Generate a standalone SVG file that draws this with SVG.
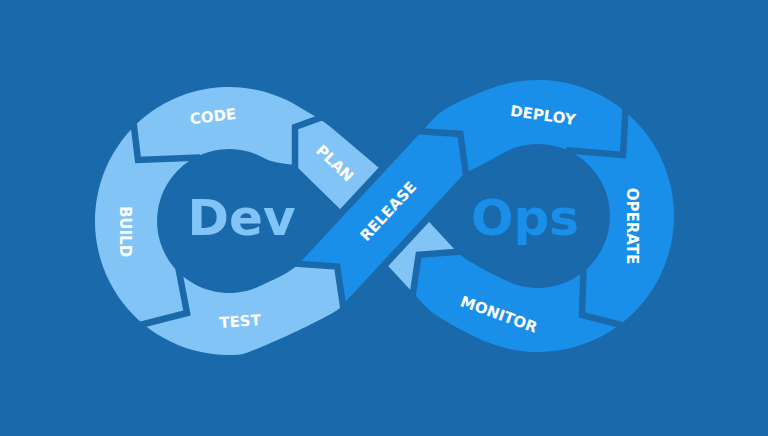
<svg xmlns="http://www.w3.org/2000/svg" width="768" height="436" viewBox="0 0 768 436">
<style>
.bg{fill:#1a69ab}
.light{fill:#82c4f6}
.bright{fill:#1a8fea}
.gap{fill:none;stroke:#1a69ab;stroke-width:6.5;stroke-linejoin:miter;stroke-linecap:butt}
.lbl{font-family:"DejaVu Sans","Liberation Sans",sans-serif;font-weight:bold;font-size:15px;fill:#ffffff;text-anchor:middle}
.big{font-family:"DejaVu Sans","Liberation Sans",sans-serif;font-weight:bold;font-size:50px;text-anchor:middle}
</style>
<rect class="bg" x="0" y="0" width="768" height="436"/>
<g id="dev-loop">
<path class="light" d="M457,252 L403.9,194.8 L406.9,191.4 L330,126.4 C320.8,118.7 310.2,113.8 300,107.4 A134,134 0 1 0 240.7,354.5 C250.7,353.6 332.7,315.6 339.5,308.3 L342.9,304.6 L337.2,266.6 L298.9,263.8 C290.7,272.6 270.3,281.2 259.4,286.3 A72,72 0 1 1 265,158.6 C272,162.6 285,164 295,165 L366.6,235 L363,238.9 L413,292.8 L418.7,254.8 Z"/>
</g>
<g id="release-outline">
<polygon class="bg" points="314.2,237 409.4,134.4 463.6,184.8 368.4,287.4"/>
</g>
<g id="ops-loop">
<path class="bright" d="M298.9,263.8 L337.2,266.6 L342.9,304.6 L463.9,174.1 C476,168 491.6,159.6 502,153.6 A72,72 0 1 1 507.6,281.3 C496.7,276.2 465.2,260.8 457,252 L418.7,254.8 L413,292.8 L426.6,307.5 C436.1,317.8 474,336.9 487,342.1 A136,136 0 1 0 491.5,88.2 C477.4,93.3 445.1,106.2 434.9,117.2 Z"/>
</g>
<g id="connectors">
<polyline class="gap" points="132,110 138,160 200,157.6"/>
<polyline class="gap" points="178,266 187,313 138,325.5"/>
<polyline class="gap" points="291.2,263.2 337.2,266.6 344,312.2"/>
<polyline class="gap" points="325.6,116 295,127 295,171"/>
<polyline class="gap" points="415.4,131 460.3,133.9 466.6,178.6"/>
<polyline class="gap" points="625.6,108 623,155 566,150.2"/>
<polyline class="gap" points="583.5,270 582,315 629,327"/>
<polyline class="gap" points="464.7,251.2 418.7,254.8 411.9,300.4"/>
</g>
<g id="dev"><text class="big" x="241.5" y="235" fill="#82c4f6">Dev</text></g>
<g id="ops"><text class="big" x="525" y="235" fill="#1a8fea">Ops</text></g>
<g id="plan"><text class="lbl" transform="translate(335,163) rotate(44)" y="5.5">PLAN</text></g>
<g id="code"><text class="lbl" transform="translate(213,116) rotate(-7)" y="5.5">CODE</text></g>
<g id="build"><text class="lbl" transform="translate(125,231.5) rotate(90)" y="5.5">BUILD</text></g>
<g id="test"><text class="lbl" transform="translate(240,321) rotate(-4)" y="5.5">TEST</text></g>
<g id="release"><text class="lbl" transform="translate(388,211) rotate(-47)" y="5.5">RELEASE</text></g>
<g id="deploy"><text class="lbl" transform="translate(543,115) rotate(8)" y="5.5">DEPLOY</text></g>
<g id="operate"><text class="lbl" transform="translate(632.5,226) rotate(90)" y="5.5">OPERATE</text></g>
<g id="monitor"><text class="lbl" transform="translate(499,314) rotate(20)" y="5.5">MONITOR</text></g>
</svg>
